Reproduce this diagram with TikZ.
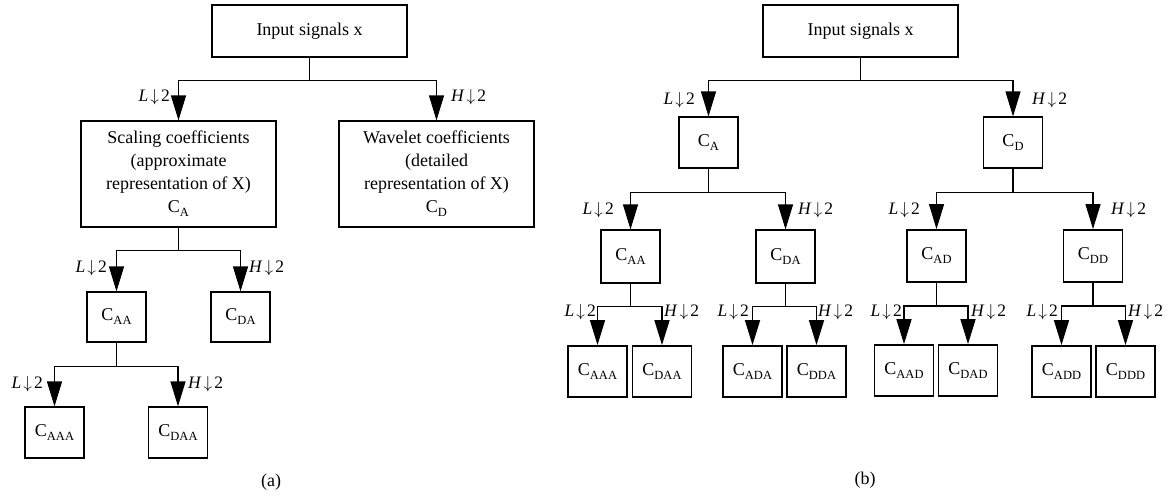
\documentclass[tikz,border=0pt]{standalone}
\usepackage{fontspec}
\setmainfont{Liberation Serif}
\usetikzlibrary{arrows.meta,calc}
\newcommand{\coefC}[1]{C\raisebox{-0.22em}{\fontsize{12.5}{12.5}\selectfont #1}}
\newcommand{\dnlab}[1]{\textit{#1}\kern2pt$\big\downarrow$\kern2pt2}
\begin{document}
\begin{tikzpicture}[x=1pt,y=-1pt,
  box/.style={draw, line width=1.2pt, inner sep=0pt, align=center,
    font=\fontsize{18}{23}\selectfont},
  big/.style={box, minimum width=195pt, minimum height=106pt},
  topbox/.style={box, minimum width=195pt, minimum height=52pt},
  sq/.style={box, minimum width=59pt, minimum height=51pt},
  sqb/.style={sq, line width=1.8pt},
  ln/.style={line width=1.2pt},
  lnb/.style={line width=1.6pt},
  arr/.style={ln, -{Triangle[length=25pt,width=15pt]}},
  arrb/.style={lnb, -{Triangle[length=25pt,width=15pt]}},
  lbl/.style={inner sep=0pt, font=\fontsize{17.5}{17.5}\selectfont},
  captxt/.style={inner sep=0pt, font=\fontsize{18}{18}\selectfont}]
\useasboundingbox (0,0) rectangle (1175,496);

% ---------------- panel (a) ----------------
\node[topbox] (inA) at (309.5,31) {Input signals x};
\node[big] (scA) at (178.5,174) {Scaling coefficients\\(approximate\\representation of X)\\\coefC{A}};
\node[big] (wvA) at (436.5,174) {Wavelet coefficients\\(detailed\\representation of X)\\\coefC{D}};
\node[sq, minimum height=50pt] (aAA) at (116.5,317) {\coefC{AA}};
\node[sq, minimum height=50pt] (aDA) at (240.5,317) {\coefC{DA}};
\node[sq] (aAAA) at (54.5,432.5) {\coefC{AAA}};
\node[sq] (aDAA) at (178,432.5) {\coefC{DAA}};

\coordinate (ja1) at ($(inA.south)+(0,23)$);
\coordinate (ja2) at ($(scA.south)+(0,23)$);
\coordinate (ja3) at ($(aAA.south)+(0,24)$);
\draw[ln] (inA.south) -- (ja1);
\draw[arr] (ja1) -| (scA.north);
\draw[arr] (ja1) -| (wvA.north);
\draw[ln] (scA.south) -- (ja2);
\draw[arr] (ja2) -| (aAA.north);
\draw[arr] (ja2) -| (aDA.north);
\draw[ln] (aAA.south) -- (ja3);
\draw[arr] (ja3) -| (aAAA.north);
\draw[arr] (ja3) -| (aDAA.north);

\node[lbl, anchor=east] (la1) at (170,97) {\dnlab{L}};
\node[lbl, anchor=west] (ha1) at (451,97) {\dnlab{H}};
\node[lbl, anchor=east] (la2) at (107,268) {\dnlab{L}};
\node[lbl, anchor=west] (ha2) at (249,268) {\dnlab{H}};
\node[lbl, anchor=east] (la3) at (43,384) {\dnlab{L}};
\node[lbl, anchor=west] (ha3) at (188,384) {\dnlab{H}};
\node[captxt] (capa) at (271,482) {(a)};

% ---------------- panel (b) ----------------
\node[topbox] (inB) at (860.5,31) {Input signals x};
\node[sq] (cA) at (708.5,142.5) {\coefC{A}};
\node[sq] (cD) at (1013,142.5) {\coefC{D}};
\node[sq, minimum height=53pt] (bAA) at (630.5,256.5) {\coefC{AA}};
\node[sq, minimum height=53pt] (bDA) at (785.5,256.5) {\coefC{DA}};
\node[sqb, minimum height=52pt] (bAD) at (936.5,256) {\coefC{AD}};
\node[sqb, minimum height=52pt] (bDD) at (1093,256) {\coefC{DD}};
\node[sqb] (bAAA) at (597.5,371.5) {\coefC{AAA}};
\node[sqb] (bDAA) at (662,371.5) {\coefC{DAA}};
\node[sqb] (bADA) at (752.5,371.5) {\coefC{ADA}};
\node[sqb] (bDDA) at (816.5,371.5) {\coefC{DDA}};
\node[sqb] (bAAD) at (904,370.5) {\coefC{AAD}};
\node[sqb] (bDAD) at (968,370.5) {\coefC{DAD}};
\node[sqb] (bADD) at (1061.5,371.5) {\coefC{ADD}};
\node[sqb] (bDDD) at (1125.5,371.5) {\coefC{DDD}};

\coordinate (jb1) at ($(inB.south)+(0,23)$);
\coordinate (jbA) at ($(cA.south)+(0,24)$);
\coordinate (jbD) at ($(cD.south)+(0,24)$);
\coordinate (jbAA) at ($(bAA.south)+(0,23)$);
\coordinate (jbDA) at ($(bDA.south)+(0,23)$);
\coordinate (jbAD) at ($(bAD.south)+(0,23)$);
\coordinate (jbDD) at ($(bDD.south)+(0,23)$);
\draw[ln] (inB.south) -- (jb1);
\draw[arr] (jb1) -| (cA.north);
\draw[arr] (jb1) -| (cD.north);
\draw[ln] (cA.south) -- (jbA);
\draw[arr] (jbA) -| (bAA.north);
\draw[arr] (jbA) -| (bDA.north);
\draw[ln] (cD.south) -- (jbD);
\draw[arr] (jbD) -| (bAD.north);
\draw[arr] (jbD) -| (bDD.north);
\draw[ln] (bAA.south) -- (jbAA);
\draw[arrb] (jbAA) -| (bAAA.north);
\draw[arrb] (jbAA) -| (bDAA.north);
\draw[ln] (bDA.south) -- (jbDA);
\draw[arrb] (jbDA) -| (bADA.north);
\draw[arrb] (jbDA) -| (bDDA.north);
\draw[lnb] (bAD.south) -- (jbAD);
\draw[arrb] (jbAD) -| (bAAD.north);
\draw[arrb] (jbAD) -| (bDAD.north);
\draw[lnb] (bDD.south) -- (jbDD);
\draw[arrb] (jbDD) -| (bADD.north);
\draw[arrb] (jbDD) -| (bDDD.north);

\node[lbl, anchor=east] (lb1) at (695,100) {\dnlab{L}};
\node[lbl, anchor=west] (hb1) at (1032,100) {\dnlab{H}};
\node[lbl, anchor=east] (lb2a) at (614,210) {\dnlab{L}};
\node[lbl, anchor=west] (hb2a) at (798,210) {\dnlab{H}};
\node[lbl, anchor=east] (lb2d) at (920,210) {\dnlab{L}};
\node[lbl, anchor=west] (hb2d) at (1111,210) {\dnlab{H}};
\node[lbl, anchor=east] (lb3a) at (596,312) {\dnlab{L}};
\node[lbl, anchor=west] (hb3a) at (664,312) {\dnlab{H}};
\node[lbl, anchor=east] (lb3b) at (749,312) {\dnlab{L}};
\node[lbl, anchor=west] (hb3b) at (818,312) {\dnlab{H}};
\node[lbl, anchor=east] (lb3c) at (902,312) {\dnlab{L}};
\node[lbl, anchor=west] (hb3c) at (971,312) {\dnlab{H}};
\node[lbl, anchor=east] (lb3d) at (1058,312) {\dnlab{L}};
\node[lbl, anchor=west] (hb3d) at (1128,312) {\dnlab{H}};
\node[captxt] (capb) at (865,480) {(b)};
\end{tikzpicture}
\end{document}
